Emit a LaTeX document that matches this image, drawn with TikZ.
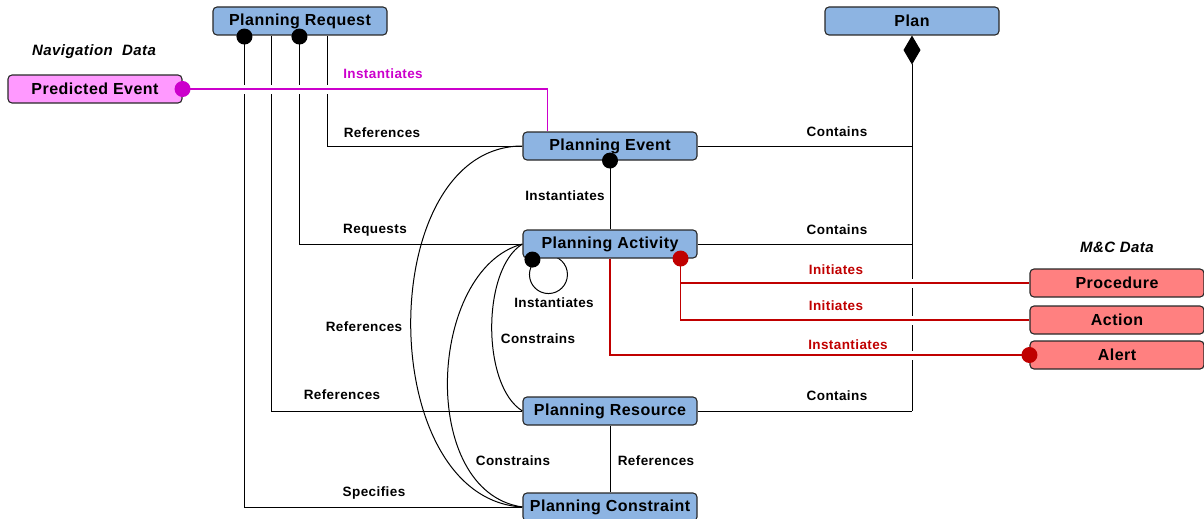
\documentclass[tikz,border=0pt]{standalone}
\usepackage{fontspec}
\setmainfont{Liberation Sans}[LetterSpace=3]
\usetikzlibrary{arrows.meta,calc}
\pgfdeclarelayer{links}
\pgfsetlayers{links,main}
\definecolor{boxblue}{RGB}{141,180,226}
\definecolor{boxpink}{RGB}{255,153,255}
\definecolor{boxred}{RGB}{255,128,128}
\definecolor{navmag}{RGB}{204,0,204}
\definecolor{mcred}{RGB}{192,0,0}
\definecolor{edgegray}{RGB}{40,40,40}
\begin{document}
\begin{tikzpicture}[x=1pt,y=-1pt,
  cls/.style={draw=edgegray, line width=1.1pt, rounded corners=4pt,
    minimum width=174pt, minimum height=28pt, inner sep=0pt,
    font=\fontsize{16}{18}\selectfont\bfseries, fill=boxblue},
  navcls/.style={cls, fill=boxpink},
  mccls/.style={cls, fill=boxred},
  lbl/.style={font=\fontsize{13.5}{15}\selectfont\bfseries, inner sep=0pt},
  grp/.style={font=\fontsize{15}{17}\selectfont\bfseries\itshape, inner sep=0pt},
  link/.style={line width=1pt, draw=black},
  gapband/.style={color=white, line width=9pt},
  navlink/.style={line width=1.4pt, color=navmag},
  mclink/.style={line width=1.3pt, color=mcred}
]
\useasboundingbox (0,0) rectangle (1204,519);

% classes
\node[cls] (preq) at (300,21) {Planning Request};
\node[cls] (plan) at (912,21) {Plan};
\node[navcls] (predev) at (95,89) {Predicted Event};
\node[cls] (pev) at (610,146) {Planning Event};
\node[cls] (pact) at (610,244) {Planning Activity};
\node[mccls] (proc) at (1117,283) {Procedure};
\node[mccls] (act) at (1117,320) {Action};
\node[mccls] (alert) at (1117,355) {Alert};
\node[cls] (pres) at (610,411) {Planning Resource};
\node[cls] (pcon) at (610,507) {Planning Constraint};

% group titles
\node[grp] (navtitle) at (94,52) {Navigation\ \ Data};
\node[grp] (mctitle) at (1117,247) {M\&C Data};

\coordinate (pj) at (plan.south |- pres.east);
\coordinate (pevin) at ($(pev.north west)+(25,0)$);
\coordinate (init) at ($(pact.south east)+(-17,0)$);

\begin{pgfonlayer}{links}
  % black associations
  \draw[link] ($(preq.south west)+(32,0)$) |- (pcon.west);
  \draw[link] ($(preq.south west)+(59,0)$) |- (pres.west);
  \draw[link] ($(preq.south west)+(87,0)$) |- (pact.west);
  \draw[link] ($(preq.south west)+(115,0)$) |- (pev.west);
  \draw[link, {Diamond[length=29pt,width=17pt]}-] (plan.south) -- (pj);
  \draw[link] (pev.east) -- (pev.east -| pj);
  \draw[link] (pact.east) -- (pact.east -| pj);
  \draw[link] (pres.east) -- (pj);
  \draw[link] (pev.south) -- (pact.north);
  \draw[link] (pres.south) -- (pcon.north);
  \draw[link] (pev.west) .. controls +(-149,0) and +(-149,-8) .. (pcon.west);
  \draw[link] (pact.west) .. controls +(-95,25) and +(-105,-15) .. (pcon.west);
  \draw[link] (pact.west) .. controls +(-41,25) and +(-41,-25) .. (pres.west);
  \draw[link] ($(pact.south west)+(26,16)$) circle (19pt);
  % data-source associations; a white band first breaks the lines they cross
  \draw[gapband] (predev.east) -| (pevin);
  \draw[gapband] (init) |- (proc.west);
  \draw[gapband] (init) |- (act.west);
  \draw[gapband] (pact.south) |- (alert.west);
  \draw[navlink] (predev.east) -| (pevin);
  \draw[mclink] (init) |- (proc.west);
  \draw[mclink] (init) |- (act.west);
  \draw[mclink] (pact.south) |- (alert.west);
\end{pgfonlayer}

% association ends
\fill ($(preq.south west)+(32,1)$) circle (8pt);
\fill ($(preq.south west)+(87,1)$) circle (8pt);
\fill (pev.south) circle (8pt);
\fill ($(pact.south west)+(10,1)$) circle (8pt);
\fill[navmag] (predev.east) circle (8pt);
\fill[mcred] (init) circle (8pt);
\fill[mcred] (alert.west) circle (8pt);

% labels
\node[lbl, text=navmag] (l1) at (383,74) {Instantiates};
\node[lbl] (l2) at (382,133) {References};
\node[lbl] (l3) at (375,230) {Requests};
\node[lbl] (l4) at (342,395) {References};
\node[lbl] (l5) at (374,493) {Specifies};
\node[lbl] (l6) at (837,132) {Contains};
\node[lbl] (l7) at (837,230) {Contains};
\node[lbl] (l8) at (837,396) {Contains};
\node[lbl] (l9) at (565,196) {Instantiates};
\node[lbl] (l10) at (554,303) {Instantiates};
\node[lbl] (l11) at (538,339) {Constrains};
\node[lbl] (l12) at (364,327) {References};
\node[lbl] (l13) at (513,461) {Constrains};
\node[lbl] (l14) at (656,461) {References};
\node[lbl, text=mcred] (l15) at (836,270) {Initiates};
\node[lbl, text=mcred] (l16) at (836,306) {Initiates};
\node[lbl, text=mcred] (l17) at (848,345) {Instantiates};
\end{tikzpicture}
\end{document}
